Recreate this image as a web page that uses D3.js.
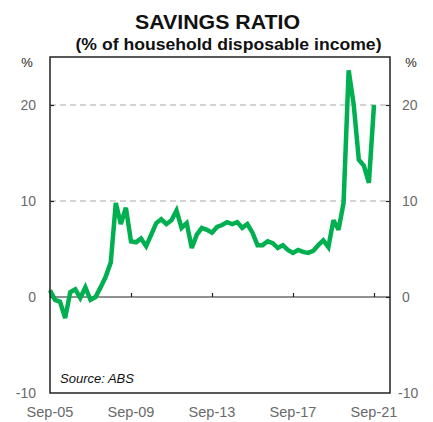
<!DOCTYPE html>
<html>
<head>
<meta charset="utf-8">
<script src="https://cdn.jsdelivr.net/npm/d3@7/dist/d3.min.js"></script>
<style>
  html, body { margin: 0; padding: 0; background: #fff; }
  svg { display: block; font-family: "Liberation Sans", Arial, sans-serif; }
</style>
</head>
<body>
<svg id="chart" width="433" height="422"></svg>
<script>
// Household saving ratio, quarterly, Sep-05 to Sep-21 (% of disposable income)
const startQuarter = new Date(2005, 8, 1);
const savingsRatio = [
  0.7, -0.3, -0.5, -2.2, 0.5, 0.8, -0.1, 1.0, -0.3, 0.0,
  1.0, 2.1, 3.6, 9.8, 7.6, 9.3, 5.8, 5.7, 6.1, 5.3,
  6.5, 7.7, 8.1, 7.6, 8.0, 9.0, 7.2, 7.7, 5.1, 6.5,
  7.2, 7.0, 6.7, 7.3, 7.5, 7.8, 7.6, 7.8, 7.2, 7.6,
  6.7, 5.4, 5.4, 5.8, 5.6, 5.1, 5.4, 4.9, 4.6, 4.9,
  4.7, 4.6, 4.8, 5.4, 5.9, 5.2, 8.0, 7.0, 9.8, 23.6,
  20.0, 14.3, 13.7, 11.9, 20.0
];
const quarters = savingsRatio.map((_, i) => d3.timeMonth.offset(startQuarter, 3 * i));
const xTickLabels = ["Sep-05", "Sep-09", "Sep-13", "Sep-17", "Sep-21"];
const xTickDates = [new Date(2005, 8, 1), new Date(2009, 8, 1), new Date(2013, 8, 1), new Date(2017, 8, 1), new Date(2021, 8, 1)];
const yTicks = [-10, 0, 10, 20];
const gridValues = [10, 20];

const svg = d3.select("#chart");
const plot = { left: 50, right: 390, top: 57, bottom: 393 };

const x = d3.scaleTime()
  .domain([new Date(2005, 8, 1), new Date(2021, 8, 1)])
  .range([plot.left, 374]);
const y = d3.scaleLinear()
  .domain([-10, 25])
  .range([plot.bottom, plot.top]);

// Titles
svg.append("text")
  .attr("x", 217.5).attr("y", 29)
  .attr("text-anchor", "middle")
  .attr("font-size", 20.5).attr("font-weight", "bold").attr("fill", "#111")
  .attr("textLength", 165).attr("lengthAdjust", "spacingAndGlyphs")
  .text("SAVINGS RATIO");
svg.append("text")
  .attr("x", 228.5).attr("y", 50)
  .attr("text-anchor", "middle")
  .attr("font-size", 16.5).attr("font-weight", "bold").attr("fill", "#111")
  .attr("textLength", 306).attr("lengthAdjust", "spacingAndGlyphs")
  .text("(% of household disposable income)");

// Dashed gridlines
svg.append("g").selectAll("line")
  .data(gridValues)
  .join("line")
  .attr("x1", plot.left).attr("x2", plot.right)
  .attr("y1", d => y(d)).attr("y2", d => y(d))
  .attr("stroke", "#aaa").attr("stroke-width", 1.2)
  .attr("stroke-dasharray", "6,4");

// Zero line with date ticks
svg.append("line")
  .attr("x1", plot.left).attr("x2", plot.right)
  .attr("y1", y(0)).attr("y2", y(0))
  .attr("stroke", "#222").attr("stroke-width", 1.2);

const xAxis = d3.axisTop(x)
  .tickValues(xTickDates)
  .tickSize(4)
  .tickFormat("");
svg.append("g")
  .attr("transform", `translate(0,${y(0)})`)
  .call(xAxis)
  .call(g => g.select(".domain").remove())
  .call(g => g.selectAll(".tick line").attr("stroke", "#222").attr("stroke-width", 1.2));

// Date labels below the frame
svg.append("g").selectAll("text")
  .data(xTickDates)
  .join("text")
  .attr("x", d => x(d)).attr("y", 417)
  .attr("text-anchor", "middle")
  .attr("font-size", 14.5).attr("fill", "#6a6a6a")
  .text((d, i) => xTickLabels[i]);

// Left and right value axes
const leftAxis = d3.axisRight(y).tickValues(yTicks.filter(v => v > -10)).tickSize(4).tickFormat("");
svg.append("g")
  .attr("transform", `translate(${plot.left},0)`)
  .call(leftAxis)
  .call(g => g.select(".domain").remove())
  .call(g => g.selectAll(".tick line").attr("stroke", "#222").attr("stroke-width", 1.2));
const rightAxis = d3.axisLeft(y).tickValues(yTicks.filter(v => v > -10)).tickSize(4).tickFormat("");
svg.append("g")
  .attr("transform", `translate(${plot.right},0)`)
  .call(rightAxis)
  .call(g => g.select(".domain").remove())
  .call(g => g.selectAll(".tick line").attr("stroke", "#222").attr("stroke-width", 1.2));

svg.append("g").selectAll("text")
  .data(yTicks)
  .join("text")
  .attr("x", 36).attr("y", d => y(d) + 5)
  .attr("text-anchor", "end")
  .attr("font-size", 14).attr("fill", "#6a6a6a")
  .text(d => d);
svg.append("g").selectAll("text")
  .data(yTicks)
  .join("text")
  .attr("x", d => d < 0 ? 398 : 402).attr("y", d => y(d) + 5)
  .attr("text-anchor", "start")
  .attr("font-size", 14).attr("fill", "#6a6a6a")
  .text(d => d);

svg.append("text").attr("x", 27).attr("y", 67).attr("text-anchor", "middle")
  .attr("font-size", 13).attr("fill", "#222").text("%");
svg.append("text").attr("x", 411).attr("y", 67).attr("text-anchor", "middle")
  .attr("font-size", 13).attr("fill", "#222").text("%");

// Series line
const line = d3.line()
  .x((d, i) => x(quarters[i]))
  .y(d => y(d));
svg.append("path")
  .datum(savingsRatio)
  .attr("d", line)
  .attr("fill", "none")
  .attr("stroke", "#00b050")
  .attr("stroke-width", 4.5)
  .attr("stroke-linejoin", "miter")
  .attr("stroke-miterlimit", 3);

// Frame
svg.append("rect")
  .attr("x", plot.left).attr("y", plot.top)
  .attr("width", plot.right - plot.left).attr("height", plot.bottom - plot.top)
  .attr("fill", "none").attr("stroke", "#222").attr("stroke-width", 1.5);

svg.append("text")
  .attr("x", 60).attr("y", 383)
  .attr("font-size", 13).attr("font-style", "italic").attr("fill", "#111")
  .text("Source: ABS");
</script>
</body>
</html>
